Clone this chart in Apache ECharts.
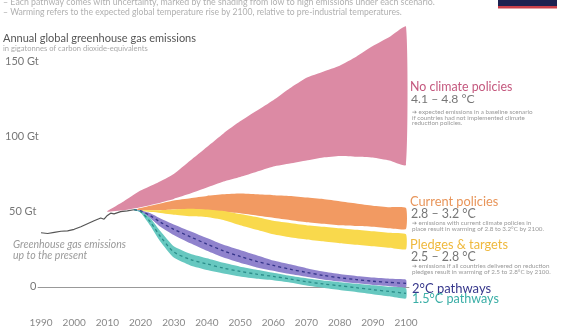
<!DOCTYPE html>
<html><head><meta charset="utf-8">
<script src="https://cdn.jsdelivr.net/npm/echarts@6/dist/echarts.min.js"></script>
<style>html,body{margin:0;padding:0;background:#fff}#c{width:564px;height:328px}</style>
</head><body><div id="c"></div>
<script>
// ---- data ----
const xTickYears = [1990,2000,2010,2020,2030,2040,2050,2060,2070,2080,2090,2100];
const yTickValues = [0,50,100,150];
const yTickLabels = ['0','50 Gt','100 Gt','150 Gt'];

const histYears  = [1990,1992,1994,1996,1998,2000,2002,2004,2006,2008,2009,2010,2011,2012,2014,2016,2018];
const histValues = [36,35.5,36.3,37,37.3,38.3,40,42,44,45.8,45,47.5,49,48.5,50,50.5,51.3];

const pinkYears = [2010,2015,2020,2025,2030,2035,2040,2045,2050,2055,2060,2065,2070,2075,2080,2085,2090,2095,2100];
const noPolicyUpper = [50.5,57,64,69,75,84,93,102,110,117,124,132,139,143,147,153,160,166,173];
const noPolicyLower = [50,51,53,55.5,58.5,62,66,70,73,76.5,80,82,84,86,87,86.5,86,84,81];

const policyYears = [2018,2020,2025,2030,2035,2040,2045,2050,2055,2060,2065,2070,2075,2080,2085,2090,2095,2100];
const currentUpper = [51.3,52.5,55,57.5,59,60.5,61.5,62,61.5,61,60.5,59.5,58.5,57,55.5,54,53,52.5];
const currentLower = [51.3,51,51,51.5,51.5,51,50,49,47.5,46,44.5,43,42,41,40.5,40,39,38.5];
const pledgeUpper  = [51.3,51,51,51.5,52,51.5,50.5,48.5,46.5,44,42.5,41,40,39,38,37,36,35];
const pledgeLower  = [51,50.5,49.5,48,47,46.5,44.5,41,38,35,33,31.5,30.3,29,28,27,26,25];

const pathYears = [2018,2020,2023,2026,2030,2035,2040,2045,2050,2055,2060,2065,2070,2075,2080,2085,2090,2095,2100];
const twoUpper  = [51.3,51,49,45.5,41.5,37,32.5,28,24.5,21,17.5,15,12.5,10.3,8.6,7.3,6.2,5.4,4.8];
const twoLower  = [51.3,50,45.5,40,34.5,29,24,19.5,16,13,10.8,8.6,6.8,5,3.6,2.4,1.3,0.5,-0.2];
const twoMid    = [51.3,50.5,47.3,43,38.3,33.3,28.5,24,20.3,17,14.3,11.8,9.7,7.7,6.1,4.9,3.8,3,2.4];
const oneFiveUpper = [51.3,50.5,45.5,37,27,22,19,16,13.5,11.5,9.5,7.5,5.8,4.3,3.2,2.2,1.2,0.2,-0.8];
const oneFiveLower = [51.3,49.5,40.5,30,19.5,14.3,11.3,9,7,5.5,4.5,3,1,-0.5,-2,-3.3,-4.8,-6.2,-7.7];
const oneFiveMid   = [51.3,50,43,33.5,23.3,18.3,15.3,12.5,10.3,8.5,7,5.3,3.5,2,0.8,-0.5,-1.8,-3,-4.3];

// ---- helpers ----
function band(years, lower, upper, color, z){
  return {type:'custom', silent:true, z:z, clip:false,
    data: years.map((y,i)=>[y, lower[i], upper[i]]),
    encode:{x:0, y:[1,2]},
    renderItem:function(params, api){
      if(params.dataIndexInside !== 0) return null;
      const n = params.dataInsideLength;
      const top = [], bot = [];
      for(let i=0;i<n;i++){
        const x = api.value(0,i);
        top.push(api.coord([x, api.value(2,i)]));
        bot.push(api.coord([x, api.value(1,i)]));
      }
      const pts = top.concat(bot.reverse());
      return {type:'polygon', shape:{points:pts, smooth:0.15}, style:{fill:color}};
    }};
}
function dashed(years, vals, color, z){
  return {type:'line', symbol:'none', smooth:0.3, silent:true, z:z, data: years.map((y,i)=>[y, vals[i]]),
    lineStyle:{color:color, width:1.3, type:[3,3]}};
}

const series = [
  band(pinkYears, noPolicyLower, noPolicyUpper, '#dc8aa4', 2),
  band(policyYears, currentLower, currentUpper, '#f29a62', 3),
  band(policyYears, pledgeLower, pledgeUpper, '#f9d94c', 4),
  band(pathYears, twoLower, twoUpper, '#9083cd', 5),
  band(pathYears, oneFiveLower, oneFiveUpper, '#67c8c0', 6),
  dashed(pathYears, twoMid, '#34348a', 7),
  dashed(pathYears, oneFiveMid, '#2b8d89', 7),
  {type:'line', symbol:'none', silent:true, z:8, data: histYears.map((y,i)=>[y, histValues[i]]),
    lineStyle:{color:'#555', width:1.2},
    markLine:{silent:true, symbol:'none', label:{show:false}, lineStyle:{color:'#999', width:1, type:'solid'},
      data:[[{coord:[1989,0]},{coord:[2101,0]}]]}}
];

const F = 'Lato, "Open Sans", sans-serif';
function txt(x,y,text,size,color,extra){
  return {type:'text', x:x, y:y, silent:true, z:100,
    style:Object.assign({text:text, font: size+'px '+F, fill:color, verticalAlign:'middle', align:'left'}, extra||{})};
}

const chart = echarts.init(document.getElementById('c'), null, {renderer:'canvas'});
chart.setOption({
  animation:false,
  backgroundColor:'#fff',
  grid:{left:37.7, right:154.7, top:16, bottom:20.7, containLabel:false},
  xAxis:{type:'value', min:1989, max:2101,
    axisLine:{show:false}, axisTick:{show:false}, splitLine:{show:false},
    axisLabel:{customValues:xTickYears, margin:16, fontSize:10, color:'#888', fontFamily:F,
      formatter:function(v){return String(v);}}},
  yAxis:{type:'value', min:-10, max:180,
    axisLine:{show:false}, axisTick:{show:false}, splitLine:{show:false},
    axisLabel:{customValues:yTickValues, align:'left', margin:32.7, fontSize:11, color:'#777', fontFamily:F,
      formatter:function(v){const i=yTickValues.indexOf(v); const t=yTickLabels[i];
        if(v===0) return '{z|'+t+'}'; if(v===50) return '{f|'+t+'}'; return t;},
      rich:{z:{padding:[0,0,0,25], fontSize:11, color:'#777', fontFamily:F}, f:{padding:[0,0,0,4], fontSize:11, color:'#777', fontFamily:F}}}},
  series: series,
  graphic:[
    txt(3,2,'– Each pathway comes with uncertainty, marked by the shading from low to high emissions under each scenario.',8.8,'#b0b0b0'),
    txt(3,12,'– Warming refers to the expected global temperature rise by 2100, relative to pre-industrial temperatures.',8.6,'#b0b0b0'),
    {type:'rect', shape:{x:498,y:0,width:59,height:6}, style:{fill:'#1c2150'}, silent:true},
    {type:'rect', shape:{x:498,y:6,width:59,height:2.5}, style:{fill:'#c9404a'}, silent:true},
    txt(3,38,'Annual global greenhouse gas emissions',11,'#555'),
    txt(3,48.5,'in gigatonnes of carbon dioxide-equivalents',7.6,'#aaa'),
    txt(13,245,'Greenhouse gas emissions',10.5,'#9a9a9a',{font:'italic 10.5px '+F}),
    txt(13,255.5,'up to the present',10.5,'#9a9a9a',{font:'italic 10.5px '+F}),
    txt(410,87,'No climate policies',12.4,'#c4587e'),
    txt(411,99.5,'4.1 – 4.8 °C',12.2,'#777'),
    txt(412,112,'➔ expected emissions in a baseline scenario',6.3,'#999'),
    txt(412,117.5,'if countries had not implemented climate',6.3,'#999'),
    txt(412,123,'reduction policies.',6.3,'#999'),
    txt(410,202,'Current policies',12.8,'#e8955a'),
    txt(411,213.5,'2.8 – 3.2 °C',12.4,'#777'),
    txt(412,223,'➔ emissions with current climate policies in',6.3,'#999'),
    txt(412,228.5,'place result in warming of 2.8 to 3.2°C by 2100.',6.3,'#999'),
    txt(410,245,'Pledges & targets',12.8,'#efb93e'),
    txt(411,257,'2.5 – 2.8 °C',12.4,'#777'),
    txt(412,266,'➔ emissions if all countries delivered on reduction',6.3,'#999'),
    txt(412,271.5,'pledges result in warming of 2.5 to 2.8°C by 2100.',6.3,'#999'),
    txt(412,289,'2°C pathways',13,'#37388c'),
    txt(412,298.5,'1.5°C pathways',12.6,'#3aaea6')
  ]
});
</script></body></html>
